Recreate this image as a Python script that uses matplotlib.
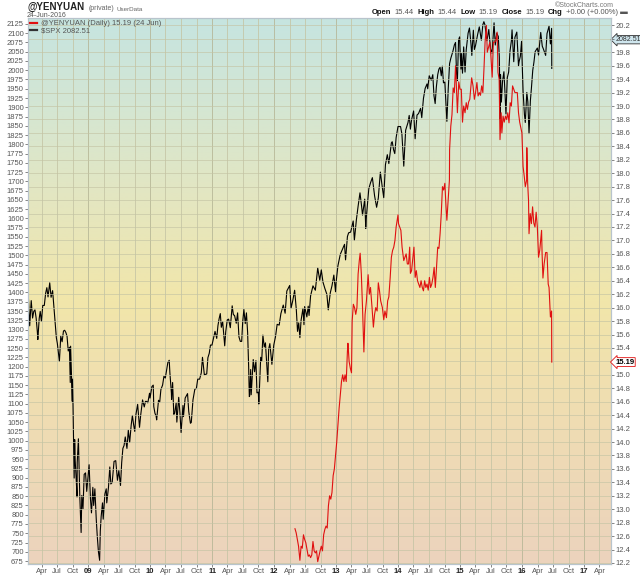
import numpy as np
import pandas as pd
import matplotlib
matplotlib.use("Agg")
import matplotlib.pyplot as plt
from matplotlib.colors import LinearSegmentedColormap
from matplotlib.lines import Line2D

plt.rcParams['font.family'] = ['Liberation Sans', 'DejaVu Sans']

# $SPX (left scale)
spx_dates = [
    '2008-01-10', '2008-01-15', '2008-01-22', '2008-01-31', '2008-02-08', '2008-02-15', '2008-02-22', '2008-02-29',
    '2008-03-07', '2008-03-10', '2008-03-18', '2008-03-24', '2008-03-31', '2008-04-08', '2008-04-17', '2008-04-25',
    '2008-05-02', '2008-05-09', '2008-05-19', '2008-05-27', '2008-06-05', '2008-06-13', '2008-06-20', '2008-06-27',
    '2008-07-03', '2008-07-15', '2008-07-23', '2008-07-31', '2008-08-08', '2008-08-15', '2008-08-22', '2008-08-29',
    '2008-09-05', '2008-09-12', '2008-09-17', '2008-09-19', '2008-09-29', '2008-09-30', '2008-10-03', '2008-10-10',
    '2008-10-13', '2008-10-16', '2008-10-22', '2008-10-27', '2008-10-28', '2008-11-04', '2008-11-12', '2008-11-20',
    '2008-11-24', '2008-12-01', '2008-12-08', '2008-12-16', '2008-12-23', '2008-12-31',
    '2009-01-06', '2009-01-14', '2009-01-20', '2009-01-28', '2009-02-02', '2009-02-09', '2009-02-17', '2009-02-23',
    '2009-03-02', '2009-03-09', '2009-03-13', '2009-03-18', '2009-03-26', '2009-03-30', '2009-04-09', '2009-04-17',
    '2009-04-20', '2009-04-30', '2009-05-08', '2009-05-14', '2009-05-22', '2009-06-02', '2009-06-12', '2009-06-22',
    '2009-06-30', '2009-07-10', '2009-07-17', '2009-07-24', '2009-07-31', '2009-08-07', '2009-08-17', '2009-08-25',
    '2009-09-02', '2009-09-11', '2009-09-18', '2009-09-25', '2009-10-02', '2009-10-09', '2009-10-19', '2009-10-30',
    '2009-11-06', '2009-11-17', '2009-11-27', '2009-12-04', '2009-12-11', '2009-12-18', '2009-12-28', '2009-12-31',
    '2010-01-11', '2010-01-19', '2010-01-22', '2010-01-29', '2010-02-05', '2010-02-08', '2010-02-19', '2010-02-26',
    '2010-03-05', '2010-03-15', '2010-03-23', '2010-03-31', '2010-04-09', '2010-04-15', '2010-04-23', '2010-04-27',
    '2010-05-06', '2010-05-07', '2010-05-13', '2010-05-20', '2010-05-25', '2010-06-03', '2010-06-07', '2010-06-18',
    '2010-06-25', '2010-07-02', '2010-07-13', '2010-07-16', '2010-07-26', '2010-08-09', '2010-08-16', '2010-08-26',
    '2010-08-31', '2010-09-10', '2010-09-21', '2010-09-30', '2010-10-08', '2010-10-19', '2010-10-29', '2010-11-05',
    '2010-11-16', '2010-11-30', '2010-12-07', '2010-12-15', '2010-12-22', '2010-12-31',
    '2011-01-07', '2011-01-18', '2011-01-28', '2011-02-04', '2011-02-11', '2011-02-18', '2011-02-24', '2011-03-04',
    '2011-03-16', '2011-03-22', '2011-03-31', '2011-04-08', '2011-04-18', '2011-04-29', '2011-05-06', '2011-05-13',
    '2011-05-23', '2011-05-31', '2011-06-08', '2011-06-16', '2011-06-24', '2011-06-30', '2011-07-07', '2011-07-15',
    '2011-07-22', '2011-07-29', '2011-08-04', '2011-08-08', '2011-08-10', '2011-08-16', '2011-08-19', '2011-08-31',
    '2011-09-08', '2011-09-16', '2011-09-22', '2011-09-30', '2011-10-03', '2011-10-14', '2011-10-20', '2011-10-27',
    '2011-11-04', '2011-11-11', '2011-11-25', '2011-11-30', '2011-12-07', '2011-12-19', '2011-12-30',
    '2012-01-09', '2012-01-19', '2012-01-31', '2012-02-10', '2012-02-24', '2012-03-06', '2012-03-16', '2012-04-02',
    '2012-04-10', '2012-04-20', '2012-05-01', '2012-05-11', '2012-05-18', '2012-05-25', '2012-06-01', '2012-06-08',
    '2012-06-19', '2012-06-25', '2012-06-29', '2012-07-12', '2012-07-20', '2012-07-25', '2012-08-03', '2012-08-17',
    '2012-08-31', '2012-09-14', '2012-09-26', '2012-10-05', '2012-10-15', '2012-10-26', '2012-11-07', '2012-11-15',
    '2012-11-27', '2012-12-07', '2012-12-18', '2012-12-28', '2012-12-31',
    '2013-01-11', '2013-01-25', '2013-02-08', '2013-02-19', '2013-02-25', '2013-03-08', '2013-03-15', '2013-03-27',
    '2013-04-11', '2013-04-18', '2013-04-30', '2013-05-10', '2013-05-21', '2013-05-31', '2013-06-05', '2013-06-18',
    '2013-06-24', '2013-06-28', '2013-07-12', '2013-07-22', '2013-08-02', '2013-08-15', '2013-08-27', '2013-09-06',
    '2013-09-18', '2013-09-30', '2013-10-08', '2013-10-18', '2013-10-29', '2013-11-07', '2013-11-22', '2013-11-27',
    '2013-12-05', '2013-12-12', '2013-12-20', '2013-12-31',
    '2014-01-15', '2014-01-23', '2014-02-03', '2014-02-14', '2014-02-28', '2014-03-07', '2014-03-14', '2014-03-21',
    '2014-04-02', '2014-04-11', '2014-04-22', '2014-05-01', '2014-05-13', '2014-05-20', '2014-05-30', '2014-06-09',
    '2014-06-20', '2014-06-24', '2014-07-03', '2014-07-15', '2014-07-24', '2014-07-31', '2014-08-07', '2014-08-14',
    '2014-08-22', '2014-08-29', '2014-09-05', '2014-09-12', '2014-09-18', '2014-09-25', '2014-10-03', '2014-10-10',
    '2014-10-15', '2014-10-23', '2014-10-31', '2014-11-07', '2014-11-20', '2014-11-28', '2014-12-05', '2014-12-11',
    '2014-12-16', '2014-12-23', '2014-12-29', '2014-12-31',
    '2015-01-06', '2015-01-09', '2015-01-15', '2015-01-22', '2015-01-30', '2015-02-06', '2015-02-17', '2015-02-25',
    '2015-03-06', '2015-03-11', '2015-03-20', '2015-03-26', '2015-04-02', '2015-04-14', '2015-04-24', '2015-05-06',
    '2015-05-15', '2015-05-21', '2015-05-27', '2015-06-08', '2015-06-19', '2015-06-29', '2015-07-08', '2015-07-20',
    '2015-07-27', '2015-08-05', '2015-08-14', '2015-08-20', '2015-08-24', '2015-08-25', '2015-08-27', '2015-09-01',
    '2015-09-08', '2015-09-16', '2015-09-22', '2015-09-28', '2015-10-06', '2015-10-14', '2015-10-22', '2015-10-30',
    '2015-11-03', '2015-11-13', '2015-11-20', '2015-12-01', '2015-12-11', '2015-12-14', '2015-12-22', '2015-12-29',
    '2015-12-31',
    '2016-01-07', '2016-01-15', '2016-01-20', '2016-01-29', '2016-02-04', '2016-02-11', '2016-02-19', '2016-02-25',
    '2016-03-04', '2016-03-11', '2016-03-18', '2016-03-31', '2016-04-07', '2016-04-20', '2016-04-29', '2016-05-06',
    '2016-05-19', '2016-05-27', '2016-06-08', '2016-06-16', '2016-06-23', '2016-06-24',
]
spx_values = [
    1420, 1380, 1310, 1378, 1331, 1349, 1353, 1331,
    1294, 1273, 1330, 1349, 1322, 1365, 1365, 1398,
    1413, 1388, 1426, 1387, 1405, 1360, 1318, 1278,
    1262, 1214, 1282, 1267, 1296, 1298, 1292, 1282,
    1242, 1252, 1157, 1255, 1106, 1166, 1099, 899,
    1003, 946, 896, 848, 941, 1005, 852, 752,
    852, 816, 909, 913, 863, 903,
    935, 843, 805, 874, 825, 870, 789, 743,
    700, 677, 756, 795, 832, 788, 856, 870,
    832, 873, 929, 883, 887, 944, 946, 893,
    919, 879, 941, 979, 987, 1010, 979, 1028,
    995, 1042, 1068, 1044, 1025, 1071, 1098, 1036,
    1069, 1110, 1091, 1106, 1106, 1102, 1128, 1115,
    1146, 1150, 1092, 1074, 1066, 1056, 1109, 1104,
    1138, 1150, 1174, 1169, 1194, 1211, 1217, 1183,
    1128, 1111, 1157, 1071, 1074, 1102, 1050, 1117,
    1076, 1022, 1095, 1065, 1115, 1127, 1079, 1047,
    1049, 1110, 1139, 1141, 1166, 1166, 1183, 1225,
    1178, 1180, 1224, 1236, 1258, 1258,
    1272, 1295, 1276, 1310, 1329, 1343, 1306, 1321,
    1256, 1294, 1326, 1328, 1305, 1364, 1340, 1338,
    1317, 1345, 1280, 1268, 1268, 1321, 1354, 1316,
    1345, 1292, 1200, 1119, 1121, 1192, 1124, 1219,
    1186, 1216, 1129, 1131, 1099, 1225, 1215, 1285,
    1253, 1264, 1159, 1247, 1262, 1206, 1258,
    1280, 1314, 1312, 1343, 1366, 1344, 1404, 1419,
    1358, 1378, 1406, 1353, 1295, 1318, 1278, 1325,
    1357, 1313, 1362, 1334, 1363, 1338, 1391, 1418,
    1406, 1466, 1433, 1461, 1428, 1411, 1395, 1353,
    1399, 1418, 1447, 1402, 1426,
    1472, 1503, 1518, 1530, 1488, 1551, 1561, 1563,
    1593, 1541, 1597, 1633, 1669, 1631, 1609, 1652,
    1573, 1606, 1680, 1696, 1710, 1661, 1630, 1655,
    1725, 1682, 1656, 1745, 1772, 1748, 1804, 1807,
    1785, 1775, 1818, 1848,
    1848, 1828, 1741, 1838, 1859, 1878, 1841, 1866,
    1890, 1815, 1879, 1883, 1897, 1872, 1924, 1951,
    1963, 1950, 1985, 1973, 1988, 1931, 1910, 1955,
    1988, 2003, 2008, 1985, 2011, 1966, 1968, 1906,
    1862, 1950, 2018, 2032, 2052, 2068, 2075, 1990,
    1972, 2082, 2090, 2059,
    2003, 2045, 1992, 2063, 1995, 2055, 2100, 2114,
    2071, 2040, 2108, 2056, 2067, 2096, 2117, 2081,
    2123, 2131, 2123, 2080, 2110, 2058, 2046, 2128,
    2068, 2100, 2091, 2035, 1893, 1868, 1988, 1914,
    1970, 1996, 1943, 1882, 1980, 1995, 2052, 2079,
    2109, 2023, 2089, 2103, 2012, 2022, 2038, 2078,
    2044,
    1943, 1880, 1859, 1940, 1915, 1829, 1918, 1951,
    2000, 2022, 2050, 2060, 2041, 2102, 2065, 2057,
    2040, 2099, 2119, 2071, 2113, 2005,
]

# @YENYUAN daily (right scale)
yy_dates = [
    '2012-05-03', '2012-05-10', '2012-05-17', '2012-05-24', '2012-06-01', '2012-06-08', '2012-06-15', '2012-06-22',
    '2012-06-29', '2012-07-06', '2012-07-13', '2012-07-20', '2012-07-27', '2012-08-03', '2012-08-10', '2012-08-17',
    '2012-08-24', '2012-08-31', '2012-09-07', '2012-09-14', '2012-09-21', '2012-09-28', '2012-10-05', '2012-10-12',
    '2012-10-19', '2012-10-26', '2012-11-02', '2012-11-09', '2012-11-16', '2012-11-23', '2012-11-30', '2012-12-07',
    '2012-12-14', '2012-12-21', '2012-12-28',
    '2013-01-04', '2013-01-11', '2013-01-18', '2013-01-25', '2013-02-01', '2013-02-08', '2013-02-15', '2013-02-22',
    '2013-03-01', '2013-03-08', '2013-03-11', '2013-03-18', '2013-03-25', '2013-04-01', '2013-04-05', '2013-04-12',
    '2013-04-19', '2013-04-26', '2013-05-03', '2013-05-10', '2013-05-17', '2013-05-22', '2013-05-29', '2013-06-05',
    '2013-06-13', '2013-06-20', '2013-06-28', '2013-07-08', '2013-07-15', '2013-07-22', '2013-07-31', '2013-08-08',
    '2013-08-15', '2013-08-22', '2013-08-30', '2013-09-06', '2013-09-13', '2013-09-20', '2013-09-30', '2013-10-08',
    '2013-10-15', '2013-10-24', '2013-10-31', '2013-11-07', '2013-11-15', '2013-11-22', '2013-11-29', '2013-12-06',
    '2013-12-13', '2013-12-20', '2013-12-31',
    '2014-01-03', '2014-01-10', '2014-01-17', '2014-01-24', '2014-02-03', '2014-02-10', '2014-02-17', '2014-02-24',
    '2014-03-03', '2014-03-10', '2014-03-14', '2014-03-21', '2014-03-31', '2014-04-04', '2014-04-11', '2014-04-18',
    '2014-04-25', '2014-05-02', '2014-05-09', '2014-05-16', '2014-05-23', '2014-05-30', '2014-06-06', '2014-06-13',
    '2014-06-20', '2014-06-27', '2014-07-04', '2014-07-11', '2014-07-18', '2014-07-25', '2014-08-01', '2014-08-08',
    '2014-08-15', '2014-08-22', '2014-08-29', '2014-09-05', '2014-09-12', '2014-09-19', '2014-09-26', '2014-10-03',
    '2014-10-10', '2014-10-15', '2014-10-24', '2014-10-30', '2014-10-31', '2014-11-07', '2014-11-14', '2014-11-21',
    '2014-11-28', '2014-12-05', '2014-12-10', '2014-12-16', '2014-12-24', '2014-12-31',
    '2015-01-08', '2015-01-15', '2015-01-22', '2015-01-30', '2015-02-06', '2015-02-13', '2015-02-20', '2015-02-27',
    '2015-03-06', '2015-03-10', '2015-03-18', '2015-03-26', '2015-04-02', '2015-04-10', '2015-04-17', '2015-04-24',
    '2015-05-01', '2015-05-08', '2015-05-15', '2015-05-22', '2015-05-28', '2015-06-05', '2015-06-10', '2015-06-15',
    '2015-06-25', '2015-07-01', '2015-07-09', '2015-07-16', '2015-07-24', '2015-07-31', '2015-08-07', '2015-08-12',
    '2015-08-19', '2015-08-24', '2015-08-31', '2015-09-04', '2015-09-11', '2015-09-18', '2015-09-25', '2015-10-02',
    '2015-10-09', '2015-10-16', '2015-10-23', '2015-10-30', '2015-11-06', '2015-11-13', '2015-11-20', '2015-11-27',
    '2015-12-04', '2015-12-11', '2015-12-18', '2015-12-31',
    '2016-01-07', '2016-01-14', '2016-01-20', '2016-01-28', '2016-01-29', '2016-02-03', '2016-02-08', '2016-02-11',
    '2016-02-18', '2016-02-25', '2016-03-03', '2016-03-10', '2016-03-17', '2016-03-24', '2016-03-31', '2016-04-07',
    '2016-04-14', '2016-04-25', '2016-04-28', '2016-05-03', '2016-05-10', '2016-05-19', '2016-05-27', '2016-06-03',
    '2016-06-08', '2016-06-16', '2016-06-23', '2016-06-24',
]
yy_values = [
    12.71, 12.65, 12.55, 12.45, 12.24, 12.45, 12.42, 12.62,
    12.55, 12.50, 12.40, 12.30, 12.32, 12.28, 12.32, 12.52,
    12.38, 12.35, 12.38, 12.22, 12.30, 12.38, 12.45, 12.38,
    12.62, 12.70, 12.75, 12.72, 13.05, 13.20, 13.15, 13.25,
    13.50, 13.60, 13.80,
    14.00, 14.25, 14.50, 14.70, 14.90, 15.00, 14.90, 15.00,
    14.90, 15.35, 15.47, 15.20, 15.10, 15.03, 15.80, 16.05,
    16.00, 15.90, 16.00, 16.50, 16.70, 16.81, 16.50, 16.00,
    15.34, 15.90, 16.10, 16.49, 16.20, 16.30, 16.00, 15.71,
    15.90, 16.00, 15.95, 16.37, 16.25, 16.10, 16.00, 15.82,
    15.95, 15.85, 16.10, 16.16, 16.45, 16.75, 16.85, 16.90,
    17.00, 17.20, 17.38,
    17.25, 17.20, 17.15, 16.90, 16.70, 16.75, 16.80, 16.65,
    16.65, 16.90, 16.51, 16.55, 16.80, 16.90, 16.45, 16.55,
    16.40, 16.35, 16.30, 16.40, 16.30, 16.25, 16.40, 16.30,
    16.35, 16.26, 16.45, 16.30, 16.35, 16.45, 16.60, 16.30,
    16.60, 16.90, 16.88, 17.10, 17.40, 17.80, 17.75, 17.85,
    17.50, 17.30, 17.65, 17.90, 18.35, 18.70, 18.87, 19.27,
    19.20, 19.60, 19.30, 18.90, 19.36, 19.25,
    19.25, 18.76, 19.00, 18.90, 19.05, 18.95, 19.06, 19.10,
    19.30, 19.42, 19.30, 19.10, 19.20, 19.35, 19.15, 19.20,
    19.16, 19.30, 19.20, 19.58, 19.95, 20.20, 19.80, 19.85,
    19.95, 19.75, 19.43, 19.95, 19.95, 19.98, 20.10, 19.50,
    19.40, 18.50, 18.90, 18.60, 18.85, 18.76, 18.85, 18.80,
    18.90, 18.75, 19.05, 19.00, 19.30, 19.25, 19.20, 19.20,
    19.20, 18.90, 18.76, 18.60,
    18.10, 17.95, 17.80, 17.90, 18.38, 17.85, 17.60, 17.10,
    17.40, 17.25, 17.50, 17.26, 17.20, 17.42, 17.20, 16.75,
    16.85, 17.15, 16.80, 16.44, 16.65, 16.82, 16.82, 16.35,
    16.30, 15.86, 15.95, 15.19,
]

spx = pd.Series(spx_values, index=pd.to_datetime(spx_dates))
yy = pd.Series(yy_values, index=pd.to_datetime(yy_dates))

spx_ticks = np.arange(675, 2126, 25)
yy_ticks = np.round(np.arange(12.2, 20.21, 0.2), 1)

fig = plt.figure(figsize=(6.4, 5.76), dpi=100)
fig.patch.set_facecolor('white')
ax = fig.add_axes([28 / 640, 1 - 564 / 576, 583 / 640, 546 / 576])
ax2 = ax.twinx()

# background gradient, bottom -> top
grad = LinearSegmentedColormap.from_list('bg', [
    (0.0, '#ecd3bd'), (0.25, '#efdcb3'), (0.48, '#f2e6aa'),
    (0.68, '#e3e6c2'), (0.85, '#d3e6d4'), (1.0, '#c6e4e0')])
ax.imshow(np.linspace(0, 1, 256).reshape(-1, 1), cmap=grad, origin='lower',
          extent=[0, 1, 0, 1], transform=ax.transAxes, aspect='auto', zorder=0)

x0 = pd.Timestamp('2008-01-12')
x1 = pd.Timestamp('2017-06-08')
ax.set_xlim(x0, x1)
ax.set_ylim(667, 2141)
ax2.set_ylim(12.185, 20.31)

# quarterly vertical grid, year lines a bit darker
quarters = pd.date_range('2008-04-01', '2017-04-01', freq='QS')
for q in quarters:
    ax.axvline(q, color='#b4b494' if q.month == 1 else '#c4c4a4',
               lw=0.7, alpha=0.8, zorder=1)
for v in yy_ticks:
    ax2.axhline(v, color='#c4c4a4', lw=0.6, alpha=0.75, zorder=1)

ax.plot(spx.index, spx.values, color='black', lw=0.8, zorder=3)
ax2.plot(yy.index, yy.values, color='#e01010', lw=0.8, zorder=3)

# axes styling
for a in (ax, ax2):
    for s in a.spines.values():
        s.set_color('#b8c4cc')
        s.set_linewidth(0.8)
ax.set_yticks(spx_ticks)
ax.set_yticklabels([str(v) for v in spx_ticks])
ax.tick_params(axis='y', labelsize=5.5, colors='#555555', length=2, width=0.5, pad=1)
ax2.set_yticks(yy_ticks)
# labels under the last-value tags are hidden, as on the original
ax2.set_yticklabels(['' if v in (20.0, 15.2) else '%.1f' % v for v in yy_ticks])
ax2.tick_params(axis='y', labelsize=5.5, colors='#555555', length=2, width=0.5, pad=1)

ax.set_xticks(quarters)
xlabels = []
for q in quarters:
    xlabels.append(q.strftime('%y') if q.month == 1 else q.strftime('%b'))
ax.set_xticklabels(xlabels)
ax.tick_params(axis='x', labelsize=5.5, colors='#555555', length=2, width=0.5, pad=1)
for lab, q in zip(ax.get_xticklabels(), quarters):
    if q.month == 1:
        lab.set_fontweight('bold')
        lab.set_color('#222222')

# legend
handles = [Line2D([], [], color='#e01010', lw=1.6),
           Line2D([], [], color='#333333', lw=1.6)]
ax2.legend(handles, ['@YENYUAN (Daily) 15.19 (24 Jun)', r'\$SPX 2082.51'],
           loc='upper left', bbox_to_anchor=(0.0, 1.0), fontsize=5.5,
           frameon=False, handlelength=0.9, handletextpad=0.5,
           labelspacing=0.05, borderaxespad=0.15, borderpad=0.1,
           labelcolor=['#555555', '#555555'])

# last value tags on the right axis
ax.annotate('2082.51', xy=(1.0, 2082.51), xycoords=('axes fraction', 'data'),
            xytext=(3, 0), textcoords='offset points', va='center', ha='left',
            fontsize=5, color='#333333', annotation_clip=False,
            bbox=dict(boxstyle='larrow,pad=0.1', fc='#cfe6ee', ec='#333333', lw=0.6))
ax2.annotate('15.19', xy=(1.0, 15.19), xycoords=('axes fraction', 'data'),
             xytext=(3, 0), textcoords='offset points', va='center', ha='left',
             fontsize=5.5, color='black', fontweight='bold', annotation_clip=False,
             bbox=dict(boxstyle='larrow,pad=0.12', fc='white', ec='#e01010', lw=0.6))

# header
t1 = fig.text(27 / 640, 1 - 10 / 576, '@YENYUAN', fontsize=7, fontweight='bold',
              color='#222222', va='baseline')
t2 = ax.annotate('(private)', xy=(1, 0), xycoords=t1, xytext=(3, 0),
                 textcoords='offset points', fontsize=5, color='#666666', va='bottom')
ax.annotate('UserData', xy=(1, 0), xycoords=t2, xytext=(2, 0),
            textcoords='offset points', fontsize=4.5, color='#666666', va='bottom')
fig.text(27 / 640, 1 - 17 / 576, '24-Jun-2016', fontsize=5, color='#555555', va='baseline')

fig.text(614 / 640, 1 - 7 / 576, '\u00a9StockCharts.com', fontsize=5, color='#777777',
         ha='right', va='baseline')
parts = [('Open', True), ('15.44', False), ('High', True), ('15.44', False),
         ('Low', True), ('15.19', False), ('Close', True), ('15.19', False),
         ('Chg', True), ('+0.00 (+0.00%) \u25ac', False)]
prev = None
for txt, bold in reversed(parts):
    kw = dict(fontsize=5.5, fontweight='bold' if bold else 'normal',
              color='#111111' if bold else '#555555', ha='right', va='bottom',
              family=['Liberation Sans', 'DejaVu Sans'])
    if prev is None:
        prev = fig.text(628 / 640, 1 - 16 / 576, txt, **kw)
    else:
        prev = ax.annotate(txt, xy=(0, 0), xycoords=prev, xytext=(-2.5, 0),
                           textcoords='offset points', **kw)

fig.savefig('out.png', dpi=100, facecolor='white')
